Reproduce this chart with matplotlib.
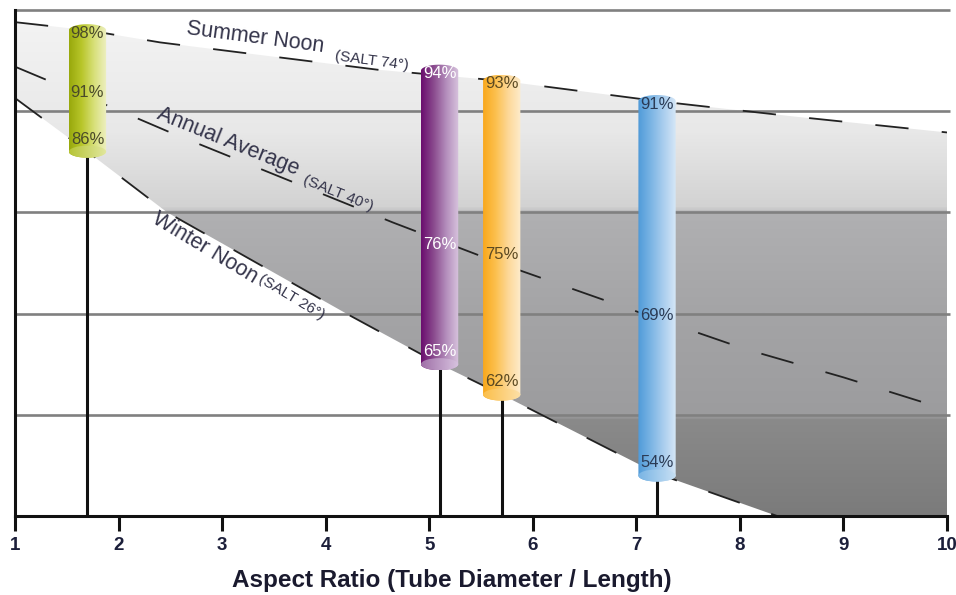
import numpy as np
import matplotlib
matplotlib.use('Agg')
import matplotlib.pyplot as plt
from matplotlib.colors import LinearSegmentedColormap
from matplotlib.patches import Polygon, Ellipse

plt.rcParams['font.family'] = ['Liberation Sans', 'DejaVu Sans']
plt.rcParams['lines.scale_dashes'] = False

# ---------------- data ----------------
summer_x = [1.0, 1.7, 2.4, 4.5, 5.7, 7.2, 8.5, 10.0]
summer_y = [98.8, 98.0, 96.8, 94.1, 93.0, 91.0, 89.5, 87.9]
annual_x = [1.0, 1.7, 2.5, 4.65, 5.7, 7.2, 8.05, 9.0, 10.0]
annual_y = [94.4, 91.4, 87.9, 79.0, 74.9, 69.5, 66.5, 63.7, 60.5]
winter_x = [1.0, 1.7, 2.47, 4.2, 5.1, 5.7, 7.2, 8.36, 10.0]
winter_y = [91.3, 86.0, 80.0, 70.0, 65.0, 62.0, 54.2, 50.0, 46.5]

tube_x = [1.7, 5.1, 5.7, 7.2]
tube_top = [98, 94, 93, 91]
tube_mid = [91, 76, 75, 69]
tube_bot = [86, 65, 62, 54]

x_ticks = [1, 2, 3, 4, 5, 6, 7, 8, 9, 10]
grid_y = [60, 70, 80, 90, 100]

curve_names = ['Summer Noon', 'Annual Average', 'Winter Noon']
curve_salt = ['(SALT 74°)', '(SALT 40°)', '(SALT 26°)']
x_label = 'Aspect Ratio (Tube Diameter / Length)'

# ---------------- styles ----------------
tube_cmaps = [
    ['#98a80c', '#b8c62a', '#d8e07a', '#eef0c4'],
    ['#6a0d6e', '#8a4a8e', '#b48ebc', '#d8c4de'],
    ['#f9a81c', '#fcc04e', '#fdd898', '#feeccc'],
    ['#4f9ad8', '#7ab4e4', '#a9cdee', '#d6e7f7'],
]
cap_cmaps = [
    ['#b6c436', '#e2e8a0'],
    ['#a070a8', '#d8c4e0'],
    ['#fbbf4a', '#fde0a8'],
    ['#78b4e4', '#c8e0f4'],
]
tube_text = ['#4a4a2a', 'white', '#5c4a22', '#2b3b55']

fig = plt.figure(figsize=(9.56, 5.95), dpi=100)
ax = fig.add_axes([15/956, 1-516/595, 932/956, 506/595])

# shaded band between summer and winter
shade = LinearSegmentedColormap.from_list('shade', [
    (0.0, '#7b7b7b'), (0.19, '#8a8a8a'), (0.195, '#9c9c9e'),
    (0.4, '#a4a4a6'), (0.6, '#b0b0b2'), (0.61, '#d2d2d2'),
    (0.76, '#e8e8e8'), (1.0, '#f4f4f4')])
grad = np.linspace(0, 1, 600).reshape(-1, 1)
im = ax.imshow(grad, extent=[1, 10, 50, 100], origin='lower', aspect='auto',
               cmap=shade, zorder=1, interpolation='bilinear')
band = list(zip(summer_x, summer_y)) + list(zip(winter_x[::-1], winter_y[::-1]))
band_patch = Polygon(band, closed=True, transform=ax.transData, facecolor='none', edgecolor='none')
im.set_clip_path(band_patch)

# grid lines
ax.hlines(grid_y, 1, 10.03, colors='#808080', lw=1.9, zorder=2, clip_on=False)

# curves
for xs, ys in [(summer_x, summer_y), (annual_x, annual_y), (winter_x, winter_y)]:
    ax.plot(xs, ys, color='#222222', lw=1.3, dashes=(24, 24), zorder=3)

# stems
ax.vlines(tube_x, 50, tube_bot, colors='#111111', lw=2.2, zorder=3)

# tubes
w, h = 0.36, 1.2
hgrad = np.linspace(0, 1, 256).reshape(1, -1)
for i, x in enumerate(tube_x):
    top, bot = tube_top[i], tube_bot[i]
    tb = np.linspace(np.pi, 2*np.pi, 60)
    tt = np.linspace(0, np.pi, 60)
    px = np.concatenate([x + w/2*np.cos(tb), x + w/2*np.cos(tt)])
    py = np.concatenate([bot + h/2*np.sin(tb), top + h/2*np.sin(tt)])
    poly = Polygon(np.column_stack([px, py]), closed=True, transform=ax.transData)
    cm = LinearSegmentedColormap.from_list('t%d' % i, tube_cmaps[i])
    tim = ax.imshow(hgrad, extent=[x-w/2, x+w/2, bot-h/2, top+h/2], aspect='auto',
                    cmap=cm, zorder=4, interpolation='bilinear')
    tim.set_clip_path(poly)
    ccm = LinearSegmentedColormap.from_list('c%d' % i, cap_cmaps[i])
    cim = ax.imshow(hgrad, extent=[x-w/2, x+w/2, bot-h/2, bot+h/2], aspect='auto',
                    cmap=ccm, zorder=4.5, interpolation='bilinear')
    ell = Ellipse((x, bot), w, h, transform=ax.transData)
    cim.set_clip_path(ell)
    for val, yy in [(top, top - 0.3), (tube_mid[i], tube_mid[i] + 0.8), (bot, bot + 1.25)]:
        ax.text(x, yy, '%d%%' % val, ha='center', va='center', fontsize=12,
                color=tube_text[i], zorder=6)

# curve labels
lab_main = [(3.32, 97.3, -7.5), (3.06, 86.96, -22), (2.83, 76.5, -31)]
lab_salt = [(4.44, 94.96, -7.5), (4.12, 81.9, -22), (3.67, 71.6, -31)]
for i in range(3):
    xm, ym, r = lab_main[i]
    ax.text(xm, ym, curve_names[i], fontsize=15.5, color='#34344a', rotation=r,
            rotation_mode='anchor', ha='center', va='center', zorder=6)
    xs_, ys_, r2 = lab_salt[i]
    ax.text(xs_, ys_, curve_salt[i], fontsize=11, color='#34344a', rotation=r2,
            rotation_mode='anchor', ha='center', va='center', zorder=6)

ax.set_xlim(1, 10)
ax.set_ylim(50, 100)
ax.set_xticks(x_ticks)
ax.set_xticklabels([str(t) for t in x_ticks])
ax.set_yticks([])
ax.tick_params(axis='x', direction='out', length=11, width=2.2, color='#111111',
               labelsize=13.5, pad=4, labelcolor='#1c1f3a')
for lbl in ax.get_xticklabels():
    lbl.set_fontweight('bold')
for s in ['top', 'right']:
    ax.spines[s].set_visible(False)
for s in ['left', 'bottom']:
    ax.spines[s].set_color('#111111')
    ax.spines[s].set_linewidth(2.2)
    ax.spines[s].set_zorder(5)
ax.patch.set_visible(False)

fig.text(452/956, 1-581/595, x_label, ha='center', va='center', fontsize=17.5,
         fontweight='bold', color='#1a1a2e')

fig.savefig('out.png', dpi=100)
